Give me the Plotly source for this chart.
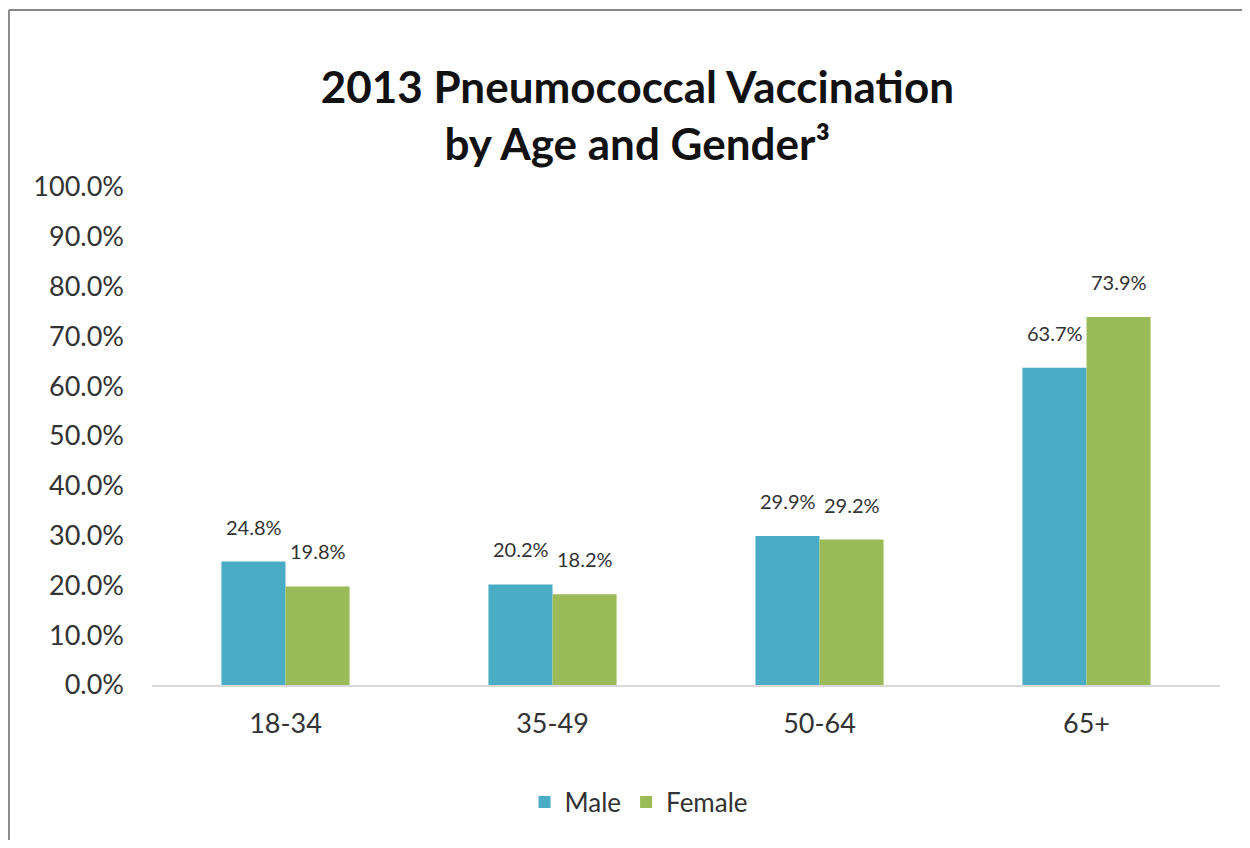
import plotly.graph_objects as go

categories = ["18-34", "35-49", "50-64", "65+"]
male = [0.248, 0.202, 0.299, 0.637]
female = [0.198, 0.182, 0.292, 0.739]
series_names = ["Male", "Female"]
colors = ["#4BACC6", "#9BBB59"]

FONT = "Lato, 'Open Sans', sans-serif"

fig = go.Figure()
for name, vals, col in zip(series_names, [male, female], colors):
    fig.add_trace(go.Bar(name=name, x=categories, y=vals, marker_color=col,
                         marker_line_width=0))

annotations = []
for vals, shift in [(male, -32), (female, 32)]:
    for c, v in zip(categories, vals):
        annotations.append(dict(x=c, y=v, xref="x", yref="y", text=f"{v*100:.1f}%",
                                showarrow=False, xshift=shift, yshift=21, yanchor="bottom",
                                font=dict(family=FONT, size=20, color="#333333")))

border = dict(color="#888888", width=2)
fig.update_layout(
    width=1234, height=832,
    paper_bgcolor="white", plot_bgcolor="white",
    margin=dict(l=144, r=22, t=179, b=155),
    barmode="group", bargap=0.52, bargroupgap=0,
    title=dict(text="<b>2013 Pneumococcal Vaccination<br>by Age and Gender³</b>",
               x=0.51, xanchor="center", y=0.886, yanchor="middle", yref="container",
               font=dict(family=FONT, size=44, color="#111111")),
    font=dict(family=FONT, size=27, color="#333333"),
    legend=dict(orientation="h", x=0.456, xanchor="center", y=-0.235, yanchor="middle",
                font=dict(family=FONT, size=26, color="#333333"),
                traceorder="normal"),
    annotations=annotations,
    shapes=[
        dict(type="line", xref="paper", yref="paper", x0=-0.134, x1=1.2,
             y0=1.3554, y1=1.3554, line=border, layer="below"),
        dict(type="line", xref="paper", yref="paper", x0=-0.134, x1=-0.134,
             y0=-0.5, y1=1.3554, line=border, layer="below"),
    ],
)
fig.update_xaxes(showgrid=False, showline=True, linecolor="#D9D9D9", linewidth=2,
                 ticks="", ticklabelstandoff=14,
                 tickfont=dict(family=FONT, size=27, color="#333333"))
fig.update_yaxes(range=[0, 1], dtick=0.1, tickformat=".1%", showgrid=False,
                 zeroline=False, showline=False, ticks="", ticklabelstandoff=27,
                 tickfont=dict(family=FONT, size=27, color="#333333"))

fig.write_html("out.html")
